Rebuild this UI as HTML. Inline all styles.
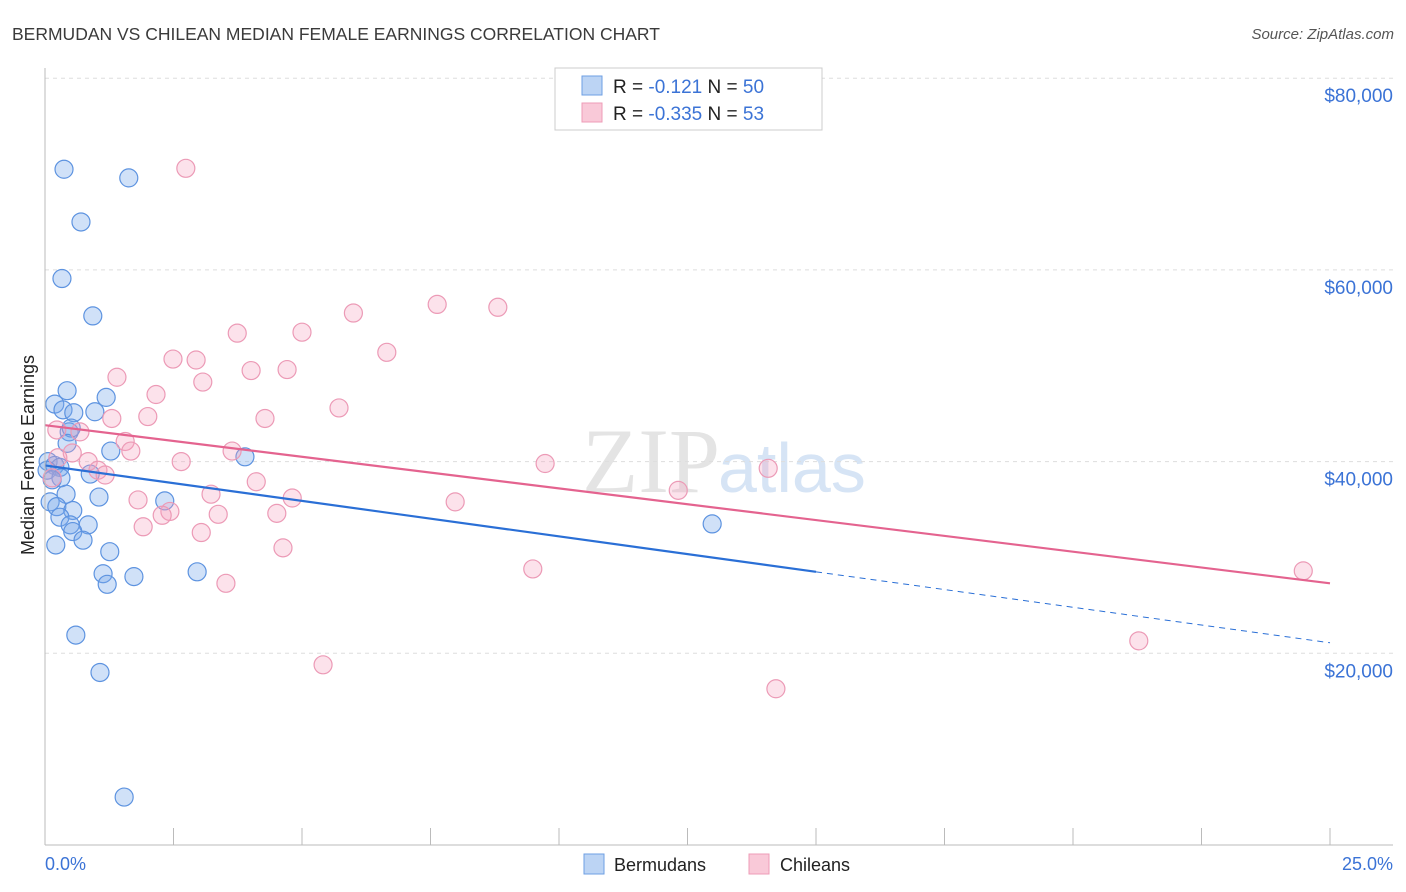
<!DOCTYPE html>
<html><head><meta charset="utf-8"><style>
body{margin:0;background:#fff;font-family:"Liberation Sans",sans-serif}
svg{display:block}
</style></head><body>
<svg id="c" width="1406" height="892">
<text x="12" y="40" font-size="17.5" fill="#3a3a3a">BERMUDAN VS CHILEAN MEDIAN FEMALE EARNINGS CORRELATION CHART</text>
<text x="1394" y="39" font-size="15" font-style="italic" fill="#555" text-anchor="end">Source: ZipAtlas.com</text>
<text x="720" y="492" font-size="92" fill="#e4e4e4" text-anchor="end" font-family="Liberation Serif,serif">ZIP</text>
<text x="718" y="492" font-size="70" fill="#d6e4f5">atlas</text>
<g id="grid"></g><g id="pts"></g><g id="trend"></g>
<line x1="45" y1="68" x2="45" y2="845" stroke="#bbb"/>
<line x1="45" y1="845" x2="1393" y2="845" stroke="#bbb"/>
<text x="45" y="870" font-size="18" fill="#3b73d6">0.0%</text>
<text x="1393" y="870" font-size="18" fill="#3b73d6" text-anchor="end">25.0%</text>
<text transform="translate(34,455) rotate(-90)" font-size="18" fill="#222" text-anchor="middle">Median Female Earnings</text>
<g>
<rect x="555" y="68" width="267" height="62" fill="#fff" stroke="#ccc"/>
<rect x="582" y="76" width="20" height="19" fill="#bcd4f4" stroke="#6e9fe3"/>
<rect x="582" y="103" width="20" height="19" fill="#f9c9d8" stroke="#ee9cb7"/>
<text x="613" y="93" font-size="19" fill="#222">R =  <tspan fill="#3b73d6">-0.121</tspan>    N = <tspan fill="#3b73d6">50</tspan></text>
<text x="613" y="120" font-size="19" fill="#222">R = <tspan fill="#3b73d6">-0.335</tspan>    N =  <tspan fill="#3b73d6">53</tspan></text>
</g>
<g><rect x="584" y="854" width="20" height="20" fill="#bcd4f4" stroke="#6e9fe3"/><text x="614" y="871" font-size="18" fill="#222">Bermudans</text></g>
<g><rect x="749" y="854" width="20" height="20" fill="#f9c9d8" stroke="#ee9cb7"/><text x="780" y="871" font-size="18" fill="#222">Chileans</text></g>
</svg>
<script>
const yTicks=[20000,40000,60000,80000];
const yTickLabels=["$20,000","$40,000","$60,000","$80,000"];
const xTicks=[0,2.5,5,7.5,10,12.5,15,17.5,20,22.5,25];
const blueX=[0.37,1.63,0.70,0.33,0.93,0.43,0.19,1.19,0.35,0.56,0.97,0.47,0.51,0.43,1.28,3.89,0.06,0.19,0.29,0.04,0.31,0.14,0.88,0.41,1.05,2.33,0.10,0.23,0.54,0.29,0.84,0.49,0.54,0.74,0.21,1.26,12.98,1.13,1.73,2.96,1.21,0.60,1.07,1.54];
const blueY=[70500,69600,65000,59100,55200,47400,46000,46700,45400,45100,45200,43100,43500,41900,41100,40500,40000,39600,39400,39100,38300,38100,38700,36600,36300,35900,35800,35300,34900,34200,33400,33400,32700,31800,31300,30600,33500,28300,28000,28500,27200,21900,18000,5000];
const pinkX=[2.74,7.63,8.81,6.0,3.74,5.0,2.49,2.94,6.65,4.01,4.71,1.40,3.07,2.16,5.72,1.30,2.0,4.28,0.68,0.23,1.56,1.67,3.64,0.53,0.25,0.84,2.65,9.73,14.07,1.03,1.17,0.14,4.11,12.32,3.23,4.81,1.81,7.98,2.43,2.28,3.37,4.51,1.91,3.04,4.63,9.49,24.48,3.52,21.28,5.41,14.22];
const pinkY=[70600,56400,56100,55500,53400,53500,50700,50600,51400,49500,49600,48800,48300,47000,45600,44500,44700,44500,43100,43300,42100,41100,41100,40900,40400,40000,40000,39800,39300,39100,38600,38300,37900,37000,36600,36200,36000,35800,34800,34400,34500,34600,33200,32600,31000,28800,28600,27300,21300,18800,16300];
const blueTrend=[39600,21100], blueSolidEnd=15.0;
const pinkTrend=[43800,27300];
const X=v=>45+v/25*1285, Y=v=>845-v/20000*191.7;
const NS="http://www.w3.org/2000/svg";
function mk(p,t,a){const e=document.createElementNS(NS,t);for(const k in a)e.setAttribute(k,a[k]);p.appendChild(e);return e;}
const g=document.getElementById('grid');
yTicks.forEach((t,i)=>{
 const l=mk(g,'line',{x1:45,x2:1393,y1:Y(t),y2:Y(t),stroke:'#ddd','stroke-dasharray':'4,4'});
 
 
 const tx=mk(g,'text',{x:1393,y:Y(t)+24,'font-size':19,fill:'#3b73d6','text-anchor':'end'});
 tx.textContent=yTickLabels[i];
 
 
});
xTicks.forEach(t=>{
 const l=mk(g,'line',{x1:X(t),x2:X(t),y1:828,y2:845,stroke:'#bbb'});
 
 
});
const pg=document.getElementById('pts');
blueX.forEach((x,i)=>{
 const c=mk(pg,'circle',{cx:X(x),cy:Y(blueY[i]),r:9,fill:'rgba(120,170,235,0.35)',stroke:'#5d93e0','stroke-width':1.2});
 
 
});
pinkX.forEach((x,i)=>{
 const c=mk(pg,'circle',{cx:X(x),cy:Y(pinkY[i]),r:9,fill:'rgba(245,160,190,0.3)',stroke:'#ec9ab6','stroke-width':1.2});
 
 
});
const tg=document.getElementById('trend');
const bAt=x=>blueTrend[0]+(blueTrend[1]-blueTrend[0])*x/25;
let l1=mk(tg,'line',{x1:X(0),y1:Y(blueTrend[0]),x2:X(blueSolidEnd),y2:Y(bAt(blueSolidEnd)),stroke:'#2a6fd6','stroke-width':2.2});


let l2=mk(tg,'line',{x1:X(blueSolidEnd),y1:Y(bAt(blueSolidEnd)),x2:X(25),y2:Y(blueTrend[1]),stroke:'#2a6fd6','stroke-width':1,'stroke-dasharray':'6,5'});


let l3=mk(tg,'line',{x1:X(0),y1:Y(pinkTrend[0]),x2:X(25),y2:Y(pinkTrend[1]),stroke:'#e4638f','stroke-width':2.2});


</script>
</body></html>
